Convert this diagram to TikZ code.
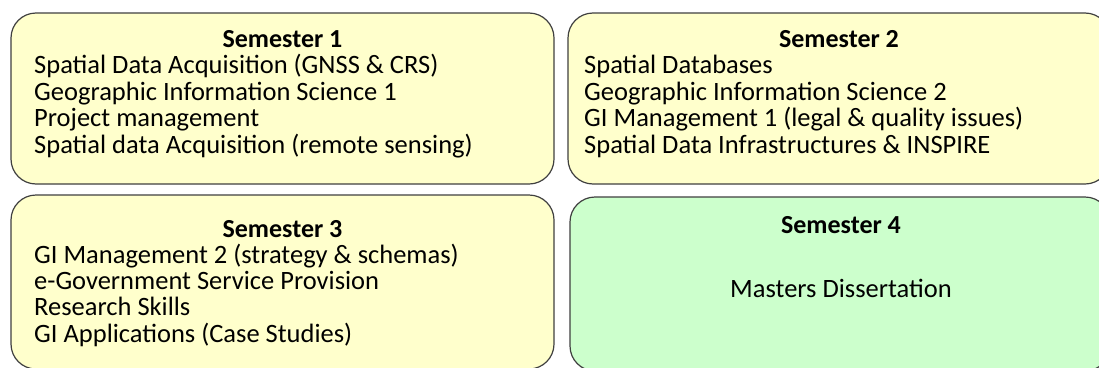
\documentclass[tikz,border=0pt]{standalone}
\usepackage{fontspec}
\setmainfont{Carlito}
\definecolor{semyellow}{HTML}{FFFFCC}
\definecolor{semgreen}{HTML}{CCFFCC}
\definecolor{semborder}{HTML}{404040}
\tikzset{
  sembox/.style={draw=semborder, line width=1.2pt, rounded corners=25pt, inner sep=0pt},
  semtitle/.style={anchor=base, inner sep=0pt, font=\fontsize{26}{26.5}\selectfont\bfseries},
  semline/.style={anchor=base west, inner sep=0pt, font=\fontsize{26.5}{26.5}\selectfont},
  semcenter/.style={anchor=base, inner sep=0pt, font=\fontsize{26.5}{26.5}\selectfont}
}
\begin{document}
\begin{tikzpicture}[x=1pt,y=1pt]
\useasboundingbox (0,0) rectangle (1099,-367);
\clip (0,0) rectangle (1099,-367);
\fill[white] (0,0) rectangle (1099,-367);
% boxes
\draw[sembox, fill=semyellow] (11,-13) rectangle (554,-184);
\draw[sembox, fill=semyellow] (568,-13) rectangle (1110,-184);
\draw[sembox, fill=semyellow] (11,-195) rectangle (554,-369);
\draw[sembox, fill=semgreen] (570,-197) rectangle (1110,-371);
% semester 1
\node[semtitle] (t1) at (282.5,-47) {Semester 1};
\node[semline] (a1) at (34,-73.5) {Spatial Data Acquisition (GNSS \& CRS)};
\node[semline] (a2) at (34,-100) {Geographic Information Science 1};
\node[semline] (a3) at (34,-126.5) {Project management};
\node[semline] (a4) at (34,-153) {Spatial data Acquisition (remote sensing)};
% semester 2
\node[semtitle] (t2) at (839,-47) {Semester 2};
\node[semline] (b1) at (584,-73.5) {Spatial Databases};
\node[semline] (b2) at (584,-100) {Geographic Information Science 2};
\node[semline] (b3) at (584,-126.5) {GI Management 1 (legal \& quality issues)};
\node[semline] (b4) at (584,-153) {Spatial Data Infrastructures \& INSPIRE};
% semester 3
\node[semtitle] (t3) at (282.5,-237) {Semester 3};
\node[semline] (c1) at (34,-263.25) {GI Management 2 (strategy \& schemas)};
\node[semline] (c2) at (34,-289.5) {e-Government Service Provision};
\node[semline] (c3) at (34,-315.75) {Research Skills};
\node[semline] (c4) at (34,-342) {GI Applications (Case Studies)};
% semester 4
\node[semtitle] (t4) at (841,-233) {Semester 4};
\node[semcenter] (d1) at (841,-297) {Masters Dissertation};
\end{tikzpicture}
\end{document}
